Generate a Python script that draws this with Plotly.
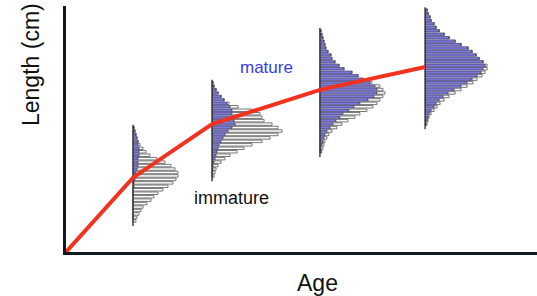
import plotly.graph_objects as go

# ---- data ----
ages = [1.0, 2.18, 3.79, 5.36]

# growth curve (age, mean length)
curve_age = [0.0, 1.0, 2.18, 3.79, 5.36]
curve_len = [0.0, 21.5, 37.0, 46.9, 53.5]

# length bins and counts per age group (total and mature)
h1_len = list(range(36, 8, -1))
h1_total = [1, 2, 3, 4, 5, 7, 10, 13, 17, 24, 32, 38, 42, 45, 45, 43, 40, 35, 30, 25, 21, 18, 14, 10, 8, 6, 4, 3]
h1_mature = [1, 2, 3, 4, 5, 5, 6, 6, 6, 5, 5, 5, 4, 3, 3, 2, 1, 1, 0, 0, 0, 0, 0, 0, 0, 0, 0, 0]

h2_len = list(range(49, 21, -1))
h2_total = [1, 2, 4, 6, 9, 12, 17, 26, 40, 48, 50, 52, 60, 66, 70, 66, 58, 50, 40, 32, 25, 18, 13, 9, 6, 4, 3, 2]
h2_mature = [1, 2, 4, 6, 9, 12, 15, 18, 20, 20, 21, 22, 23, 20, 16, 13, 11, 9, 7, 6, 5, 4, 3, 2, 1, 1, 0, 0]

h3_len = list(range(64, 28, -1))
h3_total = [1, 2, 3, 4, 5, 6, 8, 11, 12, 15, 19, 24, 32, 38, 43, 52, 60, 63, 65, 63, 60, 57, 53, 47, 40, 35, 28, 22, 17, 12, 9, 7, 5, 4, 3, 2]
h3_mature = [1, 2, 3, 4, 5, 6, 8, 11, 12, 15, 19, 24, 32, 38, 43, 50, 55, 57, 57, 54, 48, 40, 34, 29, 23, 20, 16, 13, 10, 7, 5, 4, 3, 2, 1, 1]

h4_len = list(range(70, 36, -1))
h4_total = [2, 3, 5, 6, 9, 11, 14, 19, 24, 30, 36, 43, 47, 51, 54, 58, 62, 62, 60, 57, 52, 48, 42, 36, 30, 24, 19, 15, 12, 9, 6, 4, 3, 2]
h4_mature = [2, 3, 5, 6, 9, 11, 14, 19, 24, 30, 36, 43, 47, 51, 54, 58, 60, 58, 56, 52, 47, 42, 36, 29, 23, 18, 14, 11, 9, 6, 4, 3, 2, 1]

groups = [
    (ages[0], h1_len, h1_total, h1_mature),
    (ages[1], h2_len, h2_total, h2_mature),
    (ages[2], h3_len, h3_total, h3_mature),
    (ages[3], h4_len, h4_total, h4_mature),
]

# ---- styling ----
W, H = 537, 296
ML, MR, MT, MB = 66, 0, 6, 44
px_per_age = 67.0
px_per_len = 3.457
count_scale = 1.0 / px_per_age  # one count = 1 px of bar length

BLUE = "#7e78de"
RED = "#f2321e"
AXIS = "#111a22"

fig = go.Figure()

for age, lens, tot, mat in groups:
    imm = [t - m for t, m in zip(tot, mat)]
    mat_w = [m * count_scale for m in mat]
    imm_w = [i * count_scale for i in imm]
    imm_base = [age + w for w in mat_w]
    fig.add_trace(go.Bar(
        y=lens, x=mat_w, base=[age] * len(lens), orientation="h",
        width=0.72, marker=dict(color=BLUE, line=dict(color="#2a2a55", width=0.6)),
        showlegend=False, hoverinfo="skip"))
    fig.add_trace(go.Bar(
        y=lens, x=imm_w, base=imm_base, orientation="h",
        width=0.72, marker=dict(color="#ffffff", line=dict(color="#555555", width=0.8)),
        showlegend=False, hoverinfo="skip"))
    # baseline of each histogram
    fig.add_trace(go.Scatter(
        x=[age, age], y=[min(lens) - 1.5, max(lens) + 0.8], mode="lines",
        line=dict(color="#333333", width=1.4), showlegend=False, hoverinfo="skip"))

fig.add_trace(go.Scatter(
    x=curve_age, y=curve_len, mode="lines",
    line=dict(color=RED, width=4), showlegend=False, hoverinfo="skip"))

plot_w = W - ML - MR
plot_h = H - MT - MB
x_max = plot_w / px_per_age
y_max = plot_h / px_per_len

def px_x(px):
    return (px - ML) / plot_w

def px_y(py):
    return (H - MB - py) / plot_h

def label(text, cx, cy, size, color, angle=0):
    return dict(text=text, xref="paper", yref="paper", x=px_x(cx), y=px_y(cy),
                xanchor="center", yanchor="middle", textangle=angle,
                showarrow=False, font=dict(size=size, color=color))

fig.update_layout(
    width=W, height=H,
    margin=dict(l=ML, r=MR, t=MT, b=MB),
    paper_bgcolor="white", plot_bgcolor="white",
    barmode="overlay",
    font=dict(family="Liberation Sans, Arial, sans-serif"),
    xaxis=dict(range=[0, x_max], showgrid=False, zeroline=False, showticklabels=False,
               ticks="", showline=True, linecolor=AXIS, linewidth=3, fixedrange=True),
    yaxis=dict(range=[0, y_max], showgrid=False, zeroline=False, showticklabels=False,
               ticks="", showline=True, linecolor=AXIS, linewidth=3, fixedrange=True),
    annotations=[
        label("mature", 266, 67, 17, "#3b3bf0"),
        label("immature", 231, 198, 18, "#111111"),
        label("Age", 317, 283, 23, "#111111"),
        label("Length (cm)", 31, 65, 23, "#111111", angle=-90),
    ],
)

fig.write_html("out.html", config={"displayModeBar": False},
               post_script="document.body.style.margin='0';document.body.style.overflow='hidden';")
